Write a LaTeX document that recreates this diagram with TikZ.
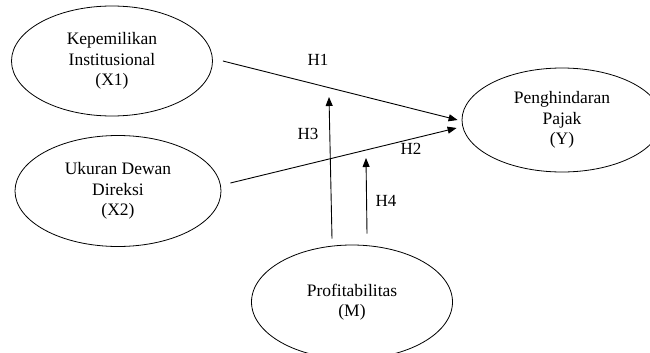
\documentclass[tikz,border=0pt]{standalone}
\usepackage{fontspec}
\setmainfont{Liberation Serif}
\usepackage{tikz}
\usetikzlibrary{positioning,calc,shapes.geometric,arrows.meta}
\tikzset{
    varnode/.style={ellipse, draw=black, line width=0.8pt, inner sep=0pt, align=center, font=\fontsize{17.5}{20.5}\selectfont},
    hyplabel/.style={inner sep=0pt, font=\fontsize{17}{20}\selectfont},
    hyparrow/.style={draw=black, line width=0.9pt, -{Triangle[length=9pt,width=7pt]}}
}
\begin{document}
\begin{tikzpicture}[x=1pt,y=-1pt]
    \useasboundingbox (0,0) rectangle (650,353);
    % Variabel
    \node[varnode, minimum width=201pt, minimum height=110pt] (x1) at (112,61) {Kepemilikan\\Institusional\\(X1)};
    \node[varnode, minimum width=206pt, minimum height=111pt] (x2) at (118,191) {Ukuran Dewan\\Direksi\\(X2)};
    \node[varnode, minimum width=200pt, minimum height=104pt] (y) at (562,120) {Penghindaran\\Pajak\\(Y)};
    \node[varnode, minimum width=201pt, minimum height=114pt] (m) at (352,302) {Profitabilitas\\(M)};
    % Ujung panah moderasi
    \coordinate (h3end) at (329,97);
    \coordinate (h4end) at (366,158);
    % Hubungan
    \draw[hyparrow] ([xshift=10pt]x1.east) -- ([shift={(-4,0)}]y.west);
    \draw[hyparrow] ([shift={(9,-8)}]x2.east) -- ([shift={(-5,8)}]y.west);
    \draw[hyparrow] ([shift={(-20,-6)}]m.north) -- (h3end);
    \draw[hyparrow] ([shift={(15,-11)}]m.north) -- (h4end);
    % Label hipotesis
    \node[hyplabel] (h1) at (318,60) {H1};
    \node[hyplabel] (h2) at (411,149) {H2};
    \node[hyplabel] (h3) at (308,134) {H3};
    \node[hyplabel] (h4) at (386,201) {H4};
\end{tikzpicture}
\end{document}
